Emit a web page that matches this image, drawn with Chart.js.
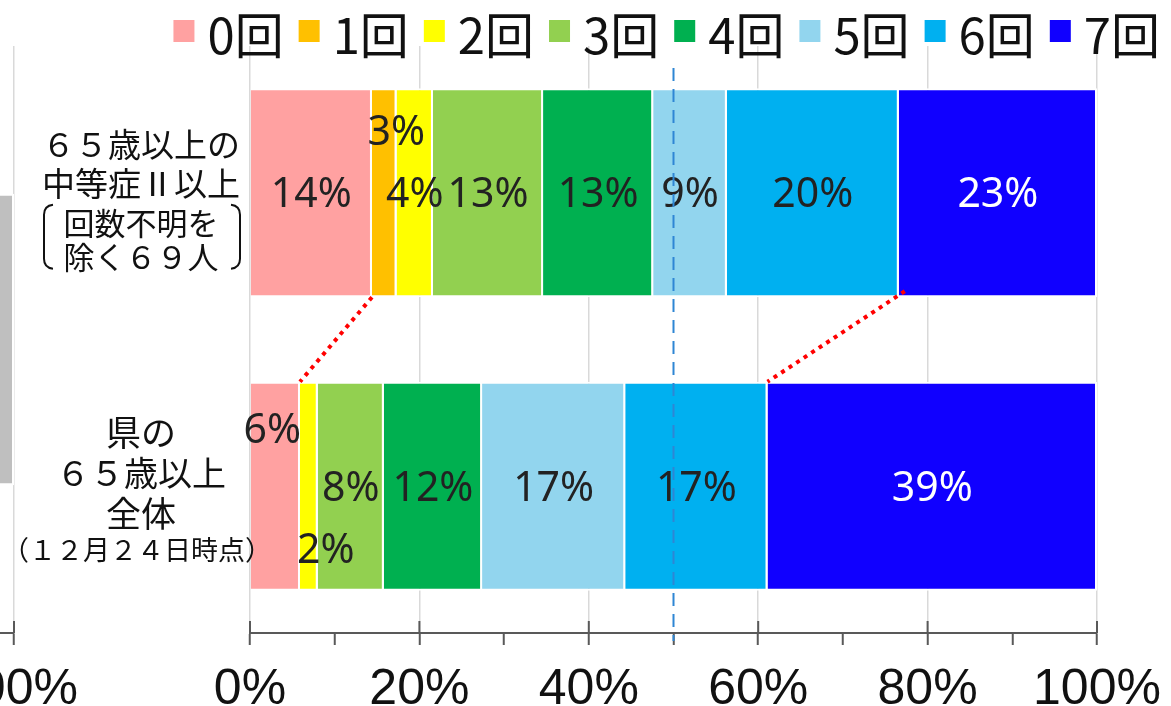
<!DOCTYPE html>
<html>
<head>
<meta charset="utf-8">
<script src="https://cdn.jsdelivr.net/npm/chart.js@4.4.0/dist/chart.umd.min.js"></script>
<style>
  html, body { margin: 0; padding: 0; background: #fff; }
  #wrap { position: relative; width: 1171px; height: 706px; overflow: hidden; }
  #leftBox { position: absolute; top: 0; left: -400px; width: 420px; height: 706px; }
  #mainBox { position: absolute; top: 0; left: 0; width: 1171px; height: 706px; }
</style>
</head>
<body>
<div id="wrap">
  <div id="leftBox"><canvas id="leftChart"></canvas></div>
  <div id="mainBox"><canvas id="mainChart"></canvas></div>
</div>
<script>
// categories (multi-line labels)
const categories = [
  ["６５歳以上の", "中等症Ⅱ以上", "回数不明を", "除く６９人"],
  ["県の", "６５歳以上", "全体", "（１２月２４日時点）"]
];
const seriesNames = ["0回", "1回", "2回", "3回", "4回", "5回", "6回", "7回"];
const seriesColors = ["#FFA1A1", "#FFC000", "#FFFF00", "#92D050", "#00B050", "#92D5EE", "#00B0F0", "#1000FF"];

// share (%) per vaccination count
const severeShare = [14.4, 2.9, 4.3, 13.0, 13.0, 8.7, 20.3, 23.4]; // 65歳以上の中等症Ⅱ以上
const prefShare = [5.9, 0, 2.1, 7.8, 11.6, 16.9, 16.8, 38.9];     // 県の65歳以上全体

const xMajorStep = 20;
const refLineValue = 50;
const prevChartShare = [100]; // cut-off neighbour chart at the left edge

const axisColor = "#595959";
const gridColor = "#D9D9D9";

const xAxis = (extra) => Object.assign({
  stacked: true,
  min: 0,
  max: 100,
  afterFit: s => { s.height = 73; s.paddingLeft = 0; s.paddingRight = 0; },
  grid: {
    color: c => (c.tick && c.tick.value % xMajorStep === 0) ? gridColor : "rgba(0,0,0,0)",
    lineWidth: 1.5,
    tickColor: axisColor,
    tickLength: 12,
    tickWidth: 2
  },
  border: { color: axisColor, width: 2 },
  ticks: {
    stepSize: 10,
    autoSkip: false,
    maxRotation: 0,
    padding: 20,
    color: "#111",
    font: { family: '"Liberation Sans", Arial, sans-serif', size: 50, lineHeight: 1 },
    callback: v => v % xMajorStep === 0 ? v + "%" : ""
  }
}, extra);

// major ticks also cross above the axis line
const upTicks = {
  id: "upTicks",
  afterDraw(chart) {
    const { ctx, scales: { x }, chartArea } = chart;
    ctx.save();
    ctx.strokeStyle = axisColor;
    ctx.lineWidth = 2;
    for (let v = 0; v <= 100; v += xMajorStep) {
      const px = x.getPixelForValue(v);
      ctx.beginPath();
      ctx.moveTo(px, chartArea.bottom - 12);
      ctx.lineTo(px, chartArea.bottom);
      ctx.stroke();
    }
    ctx.restore();
  }
};

// left neighbour chart (only its right end is visible)
const leftChart = new Chart(document.getElementById("leftChart"), {
  type: "bar",
  data: {
    labels: [""],
    datasets: [{
      data: prevChartShare,
      backgroundColor: "#BFBFBF",
      borderColor: "#fff",
      borderWidth: 2,
      barPercentage: 0.497,
      categoryPercentage: 1
    }]
  },
  options: {
    indexAxis: "y",
    responsive: true,
    maintainAspectRatio: false,
    animation: false,
    layout: { padding: { left: 0, right: 80, top: 46, bottom: 0 } },
    plugins: { legend: { display: false }, tooltip: { enabled: false } },
    scales: {
      x: xAxis({}),
      y: { stacked: true, display: false }
    }
  },
  plugins: [upTicks]
});
const px100 = leftChart.scales.x.getPixelForValue(100);
document.getElementById("leftBox").style.left = (14 - px100) + "px";

const labelShift = { "1-0": [12, -62], "0-1": [-3, -58], "2-1": [17, 62] };

const dataLabels = {
  id: "dataLabels",
  afterDatasetsDraw(chart) {
    const { ctx } = chart;
    ctx.save();
    ctx.font = '41px "Noto Sans", sans-serif';
    ctx.textAlign = "center";
    ctx.textBaseline = "middle";
    chart.data.datasets.forEach((ds, i) => {
      chart.getDatasetMeta(i).data.forEach((bar, j) => {
        const v = ds.data[j];
        if (!v) return;
        const sh = labelShift[i + "-" + j] || [0, 0];
        ctx.fillStyle = i === 7 ? "#fff" : "#222";
        ctx.fillText(Math.round(v) + "%", (bar.x + bar.base) / 2 + sh[0], bar.y + 3 + sh[1]);
      });
    });
    ctx.restore();
  }
};

const lineOffsets = [[-48, -9, 30, 64], [-54, -13, 27, 63]];
const lineSizes = [[33, 33, 31, 31], [35, 34, 35, 27]];

const catLabels = {
  id: "catLabels",
  afterDraw(chart) {
    const { ctx, scales: { y } } = chart;
    ctx.save();
    ctx.fillStyle = "#111";
    ctx.textAlign = "center";
    ctx.textBaseline = "middle";
    categories.forEach((lines, j) => {
      const cy = y.getPixelForValue(j);
      lines.forEach((t, k) => {
        ctx.font = lineSizes[j][k] + 'px "Noto Sans CJK JP", sans-serif';
        ctx.fillText(t, j === 1 && k === 3 ? 137 : 141, cy + lineOffsets[j][k]);
      });
    });
    // bracket around 回数不明を / 除く６９人
    const cy = y.getPixelForValue(0);
    ctx.strokeStyle = "#111";
    ctx.lineWidth = 2;
    ctx.beginPath();
    ctx.moveTo(53, cy + 12);
    ctx.quadraticCurveTo(44, cy + 13, 44, cy + 22);
    ctx.lineTo(44, cy + 66);
    ctx.quadraticCurveTo(44, cy + 75, 53, cy + 76);
    ctx.moveTo(231, cy + 12);
    ctx.quadraticCurveTo(240, cy + 13, 240, cy + 22);
    ctx.lineTo(240, cy + 66);
    ctx.quadraticCurveTo(240, cy + 75, 231, cy + 76);
    ctx.stroke();
    ctx.restore();
  }
};

const sumTo = (arr, n) => arr.slice(0, n).reduce((a, b) => a + b, 0);

const guides = {
  id: "guides",
  afterDraw(chart) {
    const { ctx, scales: { x }, chartArea } = chart;
    const top = chart.getDatasetMeta(0).data[0];
    const bot = chart.getDatasetMeta(0).data[1];
    const topBottom = top.y + top.height / 2;
    const botTop = bot.y - bot.height / 2;
    ctx.save();
    // red dotted connectors (end of 0回 and end of 6回)
    ctx.strokeStyle = "#FF0000";
    ctx.lineWidth = 4;
    ctx.setLineDash([4, 5]);
    [1, 7].forEach(n => {
      ctx.beginPath();
      ctx.moveTo(x.getPixelForValue(sumTo(severeShare, n)) + (n === 7 ? 6 : 0), topBottom - (n === 7 ? 6 : 0));
      ctx.lineTo(x.getPixelForValue(sumTo(prefShare, n)), botTop);
      ctx.stroke();
    });
    // blue dashed 50% line
    ctx.strokeStyle = "#2E86D4";
    ctx.lineWidth = 2;
    ctx.setLineDash([13, 8]);
    const px = x.getPixelForValue(refLineValue);
    ctx.beginPath();
    ctx.moveTo(px, chartArea.top + 22);
    ctx.lineTo(px, chartArea.bottom + 8);
    ctx.stroke();
    ctx.restore();
  }
};

const legendDraw = {
  id: "legendDraw",
  afterDraw(chart) {
    const { ctx } = chart;
    ctx.save();
    ctx.font = '49px "Noto Sans CJK JP", sans-serif';
    ctx.textBaseline = "middle";
    const box = 21, gapIn = 13, gapOut = 15;
    const widths = seriesNames.map(t => ctx.measureText(t).width);
    const total = widths.reduce((a, w) => a + box + gapIn + w, 0) + gapOut * (seriesNames.length - 1);
    let xx = 1160 - total;
    seriesNames.forEach((t, i) => {
      ctx.fillStyle = seriesColors[i];
      ctx.fillRect(xx, 20, box, 22);
      ctx.fillStyle = "#111";
      ctx.fillText(t, xx + box + gapIn, 35);
      xx += box + gapIn + widths[i] + gapOut;
    });
    ctx.restore();
  }
};

new Chart(document.getElementById("mainChart"), {
  type: "bar",
  data: {
    labels: categories,
    datasets: seriesNames.map((name, i) => ({
      label: name,
      data: [severeShare[i], prefShare[i]],
      backgroundColor: seriesColors[i],
      borderColor: "#fff",
      borderWidth: 2,
      barPercentage: 0.712,
      categoryPercentage: 1
    }))
  },
  options: {
    indexAxis: "y",
    responsive: true,
    maintainAspectRatio: false,
    animation: false,
    layout: { padding: { left: 250, right: 74, top: 46, bottom: 0 } },
    plugins: { legend: { display: false }, tooltip: { enabled: false } },
    scales: {
      x: xAxis({}),
      y: { stacked: true, display: false }
    }
  },
  plugins: [upTicks, dataLabels, catLabels, guides, legendDraw]
});
</script>
</body>
</html>
